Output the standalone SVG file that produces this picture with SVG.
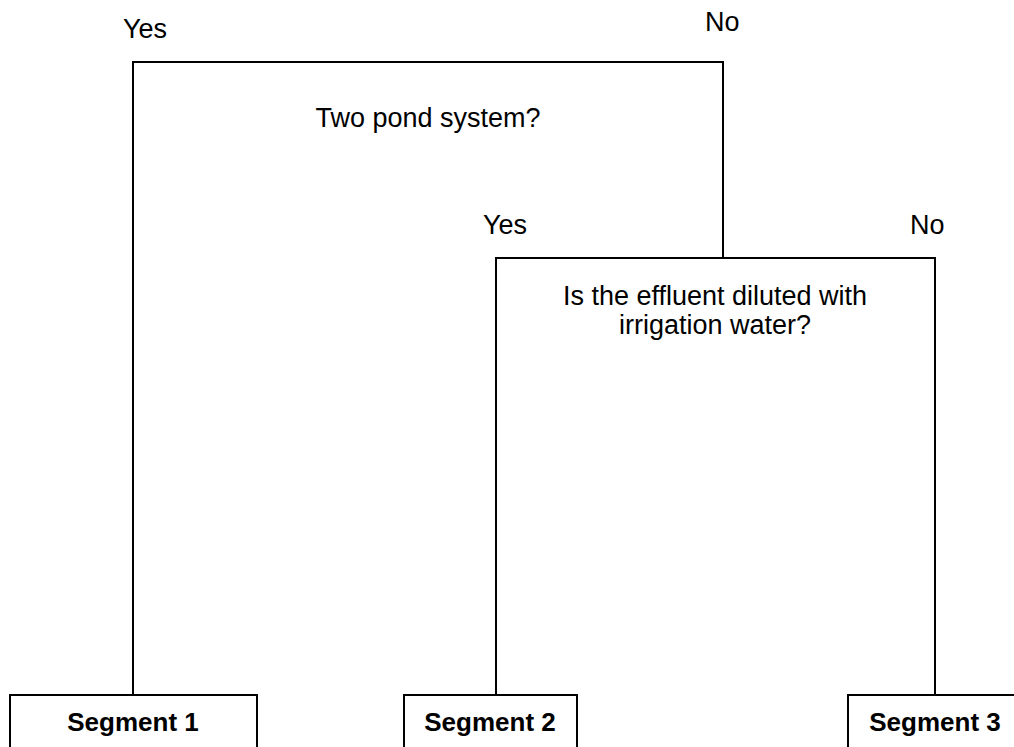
<svg xmlns="http://www.w3.org/2000/svg" width="1014" height="747" viewBox="0 0 1014 747">
<style>
.ln{fill:none;stroke:#000;stroke-width:2}
.t{font-family:"Liberation Sans",Arial,sans-serif;font-size:27px;fill:#000}
.b{font-family:"Liberation Sans",Arial,sans-serif;font-size:26px;font-weight:bold;fill:#000}
</style>
<rect width="1014" height="747" fill="#fff"/>
<g id="connectors">
<path class="ln" d="M133,695 V62 H723 V258"/>
<path class="ln" d="M496,695 V258 H935 V695"/>
</g>
<g id="q1">
<text class="t" x="428" y="127" text-anchor="middle">Two pond system?</text>
<text class="t" x="123" y="38">Yes</text>
<text class="t" x="705" y="31">No</text>
</g>
<g id="q2">
<text class="t" x="715" y="305" text-anchor="middle">Is the effluent diluted with</text>
<text class="t" x="715" y="334" text-anchor="middle">irrigation water?</text>
<text class="t" x="483" y="234">Yes</text>
<text class="t" x="910" y="234">No</text>
</g>
<g id="seg1">
<path class="ln" d="M10,750 V695 H257 V750"/>
<text class="b" x="133" y="731" text-anchor="middle">Segment 1</text>
</g>
<g id="seg2">
<path class="ln" d="M404,750 V695 H577 V750"/>
<text class="b" x="490" y="731" text-anchor="middle">Segment 2</text>
</g>
<g id="seg3">
<path class="ln" d="M848,750 V695 H1016"/>
<text class="b" x="935" y="731" text-anchor="middle">Segment 3</text>
</g>
</svg>
